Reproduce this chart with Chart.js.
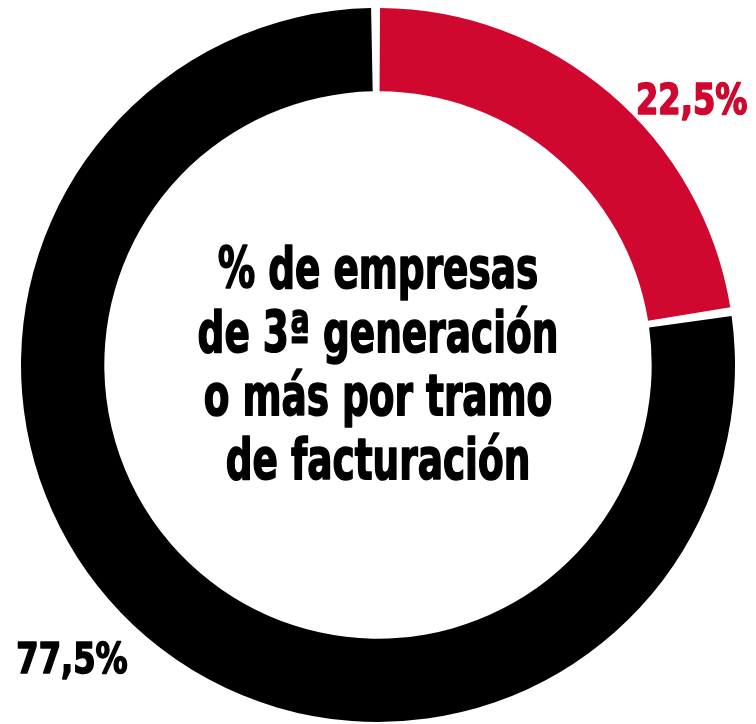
<!DOCTYPE html>
<html>
<head>
<meta charset="utf-8">
<script src="https://cdn.jsdelivr.net/npm/chart.js@4"></script>
<style>
  html, body { margin: 0; padding: 0; background: #fff; }
  #wrap { width: 756px; height: 724px; position: relative; }
</style>
</head>
<body>
<div id="wrap"><canvas id="donut"></canvas></div>
<script>
const categories = ['3ª generación o más', 'Resto'];
const shares = [22.5, 77.5];
const valueLabels = ['22,5%', '77,5%'];
const colors = ['#d0072e', '#000000'];
const centerLines = ['% de empresas', 'de 3ª generación', 'o más por tramo', 'de facturación'];

const FONT = '"DejaVu Sans Condensed", "DejaVu Sans", sans-serif';

// label baselines relative to the ring radius (text only)
const labelSpots = [[0.885, -0.707], [-0.863, 0.868]];

// condensed heavy text: squeeze horizontally, thicken with a stroke
function squeezedText(ctx, txt, x, y, sx) {
    ctx.save();
    ctx.translate(x, y);
    ctx.scale(sx, 1);
    ctx.strokeStyle = ctx.fillStyle;
    ctx.lineWidth = 1.6;
    ctx.lineJoin = 'round';
    ctx.fillText(txt, 0, 0);
    ctx.strokeText(txt, 0, 0);
    ctx.restore();
}

const textPlugin = {
    id: 'donutText',
    afterDraw(chart) {
        const ctx = chart.ctx;
        const arc = chart.getDatasetMeta(0).data[0];
        const cx = arc.x, cy = arc.y, r = arc.outerRadius;
        ctx.save();
        ctx.textAlign = 'center';
        ctx.textBaseline = 'alphabetic';
        ctx.fillStyle = '#000';
        ctx.font = 'bold 57px ' + FONT;
        const lh = 63.5;
        centerLines.forEach((line, i) => {
            squeezedText(ctx, line, cx, cy - 77 + i * lh, 0.73);
        });
        ctx.font = 'bold 42px ' + FONT;
        valueLabels.forEach((txt, i) => {
            ctx.fillStyle = colors[i];
            squeezedText(ctx, txt, cx + labelSpots[i][0] * r, cy + labelSpots[i][1] * r, 0.85);
        });
        ctx.restore();
    }
};

const chart = new Chart(document.getElementById('donut').getContext('2d'), {
    type: 'doughnut',
    data: {
        labels: categories,
        datasets: [{
            data: shares,
            backgroundColor: colors,
            borderWidth: 0,
            spacing: 5
        }]
    },
    options: {
        responsive: true,
        maintainAspectRatio: false,
        animation: false,
        cutout: '76.5%',
        layout: { padding: { top: 8, bottom: 2, left: 0, right: 0 } },
        plugins: {
            legend: { display: false },
            tooltip: { enabled: false }
        }
    },
    plugins: [textPlugin]
});
</script>
</body>
</html>
